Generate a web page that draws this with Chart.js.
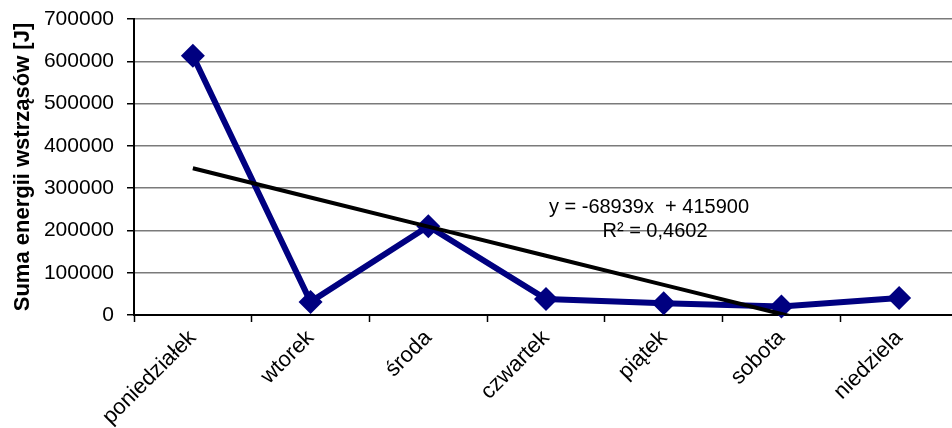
<!DOCTYPE html>
<html>
<head>
<meta charset="utf-8">
<script src="https://cdn.jsdelivr.net/npm/chart.js@4/dist/chart.umd.min.js"></script>
<style>
  html, body { margin: 0; padding: 0; background: #fff; overflow: hidden; }
  #wrap { width: 970px; height: 428px; }
</style>
</head>
<body>
<div id="wrap"><canvas id="c" width="970" height="428"></canvas></div>
<script>
// Days of the week and the summed tremor energy for each
const days = ['poniedziałek', 'wtorek', 'środa', 'czwartek', 'piątek', 'sobota', 'niedziela'];
const energy = [613000, 31000, 210000, 38000, 28000, 20000, 40000];

// Linear trend: y = slope * x + intercept (x = 1..7)
const slope = -68939;
const intercept = 415900;
const rSquared = '0,4602';
const trend = days.map((d, i) => slope * (i + 1) + intercept);

const yTicks = [0, 100000, 200000, 300000, 400000, 500000, 600000, 700000];

const FONT = 'Liberation Sans, Arial, sans-serif';

const equationLabel = {
  id: 'equationLabel',
  afterDatasetsDraw(chart) {
    const { ctx, chartArea } = chart;
    ctx.save();
    ctx.fillStyle = '#000';
    ctx.font = '20px ' + FONT;
    ctx.textAlign = 'center';
    ctx.textBaseline = 'middle';
    const x = chartArea.left + 515;
    ctx.fillText('y = -68939x  + 415900', x, chartArea.top + 188);
    ctx.fillText('R² = ' + rSquared, x + 6, chartArea.top + 212);
    ctx.restore();
  }
};

new Chart(document.getElementById('c'), {
  type: 'line',
  data: {
    labels: days,
    datasets: [
      {
        label: 'trend',
        data: trend,
        borderColor: '#000',
        borderWidth: 4,
        pointRadius: 0,
        fill: false,
        order: 0,
        clip: { left: false, right: false, top: false, bottom: 0 }
      },
      {
        label: 'energia',
        data: energy,
        borderColor: '#000080',
        backgroundColor: '#000080',
        borderWidth: 6,
        pointStyle: 'rectRot',
        pointRadius: 12,
        pointBorderWidth: 0,
        pointBackgroundColor: '#000080',
        fill: false,
        tension: 0,
        order: 1,
        clip: false
      }
    ]
  },
  options: {
    responsive: false,
    animation: false,
    layout: { padding: { left: 0, right: 5, top: 19, bottom: 0 } },
    plugins: {
      legend: { display: false },
      tooltip: { enabled: false }
    },
    scales: {
      x: {
        offset: true,
        grid: {
          offset: true,
          drawOnChartArea: false,
          drawTicks: true,
          tickLength: 7,
          tickColor: '#000',
          tickWidth: 1.5
        },
        border: { color: '#000', width: 2 },
        ticks: {
          color: '#000',
          font: { family: FONT, size: 22 },
          minRotation: 45,
          maxRotation: 45,
          padding: 3
        },
        afterFit(s) { s.height = 113; s.paddingLeft = 0; s.paddingRight = 0; }
      },
      y: {
        min: 0,
        max: 700000,
        afterBuildTicks(s) { s.ticks = yTicks.map(v => ({ value: v })); },
        grid: {
          color: '#7a7a7a',
          lineWidth: 1.5,
          tickLength: 7,
          tickColor: '#000',
          tickWidth: 1.5
        },
        border: { color: '#000', width: 2 },
        ticks: {
          color: '#000',
          font: { family: FONT, size: 21 },
          padding: 13,
          callback: v => String(v)
        },
        title: {
          display: true,
          text: 'Suma energii wstrząsów [J]',
          color: '#000',
          font: { family: FONT, size: 22, weight: 'bold' },
          padding: { top: 10, bottom: 0 }
        },
        afterFit(s) { s.width = 134; s.paddingTop = 0; s.paddingBottom = 0; }
      }
    }
  },
  plugins: [equationLabel]
});
</script>
</body>
</html>
